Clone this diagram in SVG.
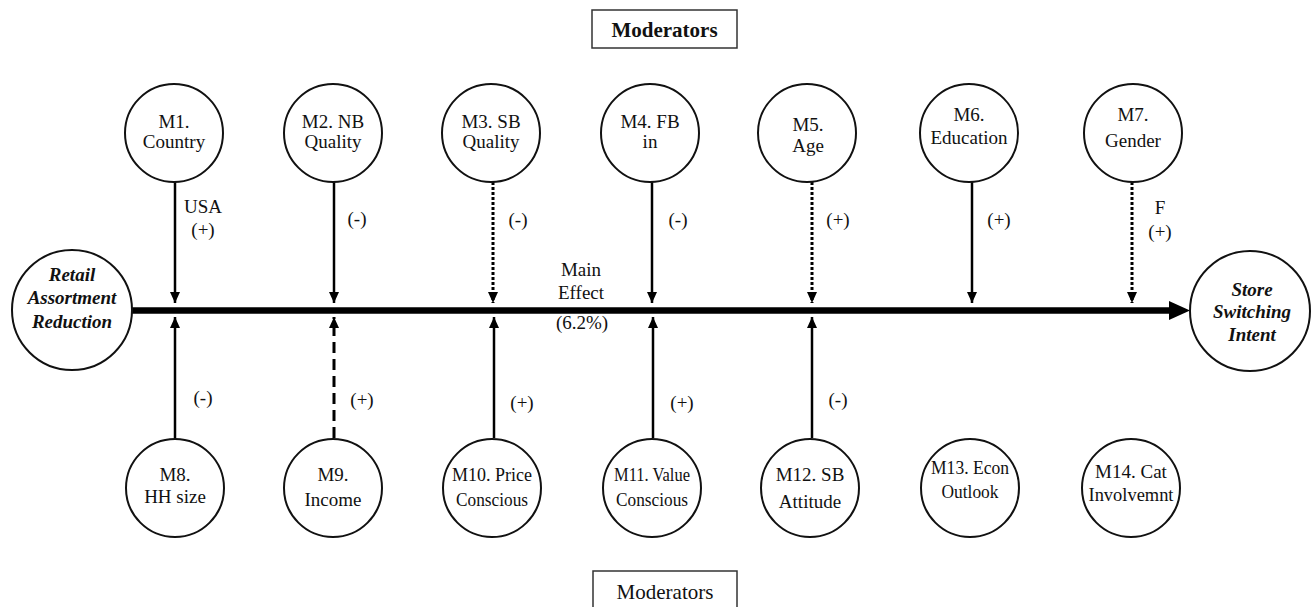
<svg xmlns="http://www.w3.org/2000/svg" width="1311" height="607" viewBox="0 0 1311 607">
<defs>
<style>
.c{fill:#fff;stroke:#111;stroke-width:2}
.t{font-family:"Liberation Serif","Times New Roman",serif;font-size:19px;fill:#111;text-anchor:middle}
.bi{font-weight:bold;font-style:italic}
.a{stroke:#000;stroke-width:2.5;fill:none;marker-end:url(#ah)}
.dot{stroke-dasharray:3 2;stroke-width:3}
.dash{stroke-dasharray:11 6;stroke-width:3}
.box{fill:#fff;stroke:#333;stroke-width:1.5}
</style>
<marker id="ah" markerUnits="userSpaceOnUse" markerWidth="11" markerHeight="12" refX="11" refY="5" orient="auto">
<path d="M0,0 L11,5 L0,10 Z" fill="#000"/>
</marker>
</defs>
<rect width="1311" height="607" fill="#fff"/>

<g id="connectors">
<line x1="130" y1="310.5" x2="1172" y2="310.5" stroke="#000" stroke-width="6.5"/>
<path d="M1169,301 L1190,310.5 L1169,320 Z" fill="#000"/>
<line class="a" x1="175" y1="182" x2="175" y2="303"/>
<line class="a" x1="334" y1="182" x2="334" y2="303"/>
<line class="a dot" x1="493" y1="182" x2="493" y2="303"/>
<line class="a" x1="652" y1="182" x2="652" y2="303"/>
<line class="a dot" x1="812" y1="182" x2="812" y2="303"/>
<line class="a" x1="972" y1="182" x2="972" y2="303"/>
<line class="a dot" x1="1132" y1="182" x2="1132" y2="303"/>
<line class="a" x1="175" y1="438" x2="175" y2="317"/>
<line class="a dash" x1="334" y1="438" x2="334" y2="317"/>
<line class="a" x1="494" y1="438" x2="494" y2="317"/>
<line class="a" x1="653" y1="438" x2="653" y2="317"/>
<line class="a" x1="812" y1="438" x2="812" y2="317"/>
</g>

<g id="labels" class="t">
<text x="203" y="213">USA</text>
<text x="203" y="236">(+)</text>
<text x="357" y="225">(-)</text>
<text x="518" y="226">(-)</text>
<text x="678" y="226">(-)</text>
<text x="838" y="226">(+)</text>
<text x="999" y="226">(+)</text>
<text x="1160" y="214">F</text>
<text x="1160" y="238">(+)</text>
<text x="203" y="404">(-)</text>
<text x="362" y="406">(+)</text>
<text x="522" y="409">(+)</text>
<text x="682" y="409">(+)</text>
<text x="838" y="406">(-)</text>
<text x="581" y="276">Main</text>
<text x="581" y="299">Effect</text>
<text x="582" y="329">(6.2%)</text>
</g>

<g id="mod-top">
<rect class="box" x="592" y="10" width="145" height="38"/>
<text class="t" x="664.5" y="37" style="font-weight:bold;font-size:21px">Moderators</text>
</g>
<g id="mod-bottom">
<rect class="box" x="593" y="571" width="144" height="50"/>
<text class="t" x="665" y="599" style="font-size:21px">Moderators</text>
</g>

<g id="retail">
<circle class="c" cx="72" cy="310" r="60"/>
<text class="t bi" x="72" y="281">Retail</text>
<text class="t bi" x="72" y="304">Assortment</text>
<text class="t bi" x="72" y="328">Reduction</text>
</g>
<g id="store">
<circle class="c" cx="1250" cy="311" r="60"/>
<text class="t bi" x="1252" y="296">Store</text>
<text class="t bi" x="1252" y="318">Switching</text>
<text class="t bi" x="1252" y="341">Intent</text>
</g>

<g id="m1"><circle class="c" cx="174" cy="133" r="49"/><text class="t" x="174" y="128">M1.</text><text class="t" x="174" y="148">Country</text></g>
<g id="m2"><circle class="c" cx="333" cy="133" r="49"/><text class="t" x="333" y="128">M2. NB</text><text class="t" x="333" y="148">Quality</text></g>
<g id="m3"><circle class="c" cx="491" cy="133" r="49"/><text class="t" x="491" y="128">M3. SB</text><text class="t" x="491" y="148">Quality</text></g>
<g id="m4"><circle class="c" cx="650" cy="133" r="49"/><text class="t" x="650" y="128">M4. FB</text><text class="t" x="650" y="148">in</text></g>
<g id="m5"><circle class="c" cx="807" cy="133" r="49"/><text class="t" x="808" y="131">M5.</text><text class="t" x="808" y="152">Age</text></g>
<g id="m6"><circle class="c" cx="969" cy="133" r="49"/><text class="t" x="969" y="121">M6.</text><text class="t" x="969" y="144">Education</text></g>
<g id="m7"><circle class="c" cx="1133" cy="133" r="49"/><text class="t" x="1133" y="121">M7.</text><text class="t" x="1133" y="147">Gender</text></g>

<g id="m8"><circle class="c" cx="175" cy="488" r="49"/><text class="t" x="175" y="481">M8.</text><text class="t" x="175" y="503">HH size</text></g>
<g id="m9"><circle class="c" cx="333" cy="488" r="49"/><text class="t" x="333" y="481">M9.</text><text class="t" x="333" y="506">Income</text></g>
<g id="m10"><circle class="c" cx="492" cy="488" r="49"/><text class="t" x="492" y="481" textLength="80" lengthAdjust="spacingAndGlyphs">M10. Price</text><text class="t" x="492" y="506" textLength="72" lengthAdjust="spacingAndGlyphs">Conscious</text></g>
<g id="m11"><circle class="c" cx="652" cy="488" r="49"/><text class="t" x="652" y="481" textLength="76" lengthAdjust="spacingAndGlyphs">M11. Value</text><text class="t" x="652" y="506" textLength="72" lengthAdjust="spacingAndGlyphs">Conscious</text></g>
<g id="m12"><circle class="c" cx="810" cy="488" r="49"/><text class="t" x="810" y="481">M12. SB</text><text class="t" x="810" y="508">Attitude</text></g>
<g id="m13"><circle class="c" cx="970" cy="488" r="49"/><text class="t" x="970" y="474" textLength="78" lengthAdjust="spacingAndGlyphs">M13. Econ</text><text class="t" x="970" y="498" textLength="57" lengthAdjust="spacingAndGlyphs">Outlook</text></g>
<g id="m14"><circle class="c" cx="1131" cy="488" r="49"/><text class="t" x="1131" y="478">M14. Cat</text><text class="t" x="1131" y="501" textLength="85" lengthAdjust="spacingAndGlyphs">Involvemnt</text></g>
</svg>
